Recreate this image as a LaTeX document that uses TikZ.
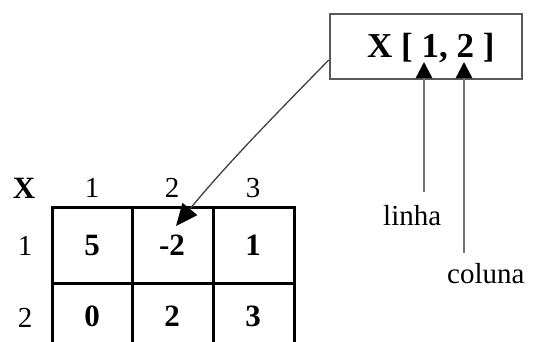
\documentclass[tikz,border=0pt]{standalone}
\usepackage{fontspec}
\setmainfont{Liberation Serif}
\usetikzlibrary{arrows.meta}
\tikzset{
  gridline/.style={line width=3pt, black},
  lbl/.style={inner sep=0pt, font=\fontsize{29}{29}\selectfont},
  val/.style={inner sep=0pt, font=\fontsize{31}{31}\selectfont\bfseries},
  callout/.style={draw=black!65, line width=2.6pt, fill=white, inner sep=0pt},
  pointer/.style={draw=black!55, line width=2.4pt,
    -{Triangle[length=16pt,width=16pt,color=black]}},
  leader/.style={draw=black!75, line width=1.3pt,
    -{Triangle[length=22pt,width=19pt,color=black]}}
}
\begin{document}
\begin{tikzpicture}[x=1pt,y=-1pt]
\useasboundingbox (0,0) rectangle (534,341);
\clip (0,0) rectangle (534,341);

% array grid (the lower border runs past the frame)
\foreach \gx in {52,132,213,294} \draw[gridline] (\gx,207) -- (\gx,350);
\foreach \gy in {207,283} \draw[gridline] (50.5,\gy) -- (295.5,\gy);

% headers
\node[val] (hx) at (24,188) {X};
\node[lbl] (c1) at (92,188) {1};
\node[lbl] (c2) at (172,188) {2};
\node[lbl] (c3) at (253,188) {3};
\node[lbl] (r1) at (25,246) {1};
\node[lbl] (r2) at (25,318) {2};

% cell values
\node[val] (a11) at (92,245) {5};
\node[val] (a12) at (172,245) {-2};
\node[val] (a13) at (253,245) {1};
\node[val] (a21) at (92,316) {0};
\node[val] (a22) at (172,316) {2};
\node[val] (a23) at (253,316) {3};

% access expression
\node[callout, minimum width=192pt, minimum height=65pt] (box) at (426,46.5) {};
\node[inner sep=0pt, anchor=base west,
      font=\fontsize{35}{35}\selectfont\bfseries] (expr) at (367,57) {X [ 1, 2 ]};

% index labels
\node[lbl, anchor=base west] (linha) at (383,225) {linha};
\node[lbl, anchor=base west] (coluna) at (447,283) {coluna};

\coordinate (lfoot) at (424,192);
\coordinate (ltip) at (424,62);
\coordinate (cfoot) at (464,253);
\coordinate (ctip) at (464,62);
\draw[pointer] (lfoot) -- (ltip);
\draw[pointer] (cfoot) -- (ctip);

% element reached by X[1,2]
\coordinate (bstart) at (box.west |- 0,60);
\coordinate (etip) at (176,226);
\draw[leader] (bstart) .. controls (285,105) and (230,160) .. (etip);
\end{tikzpicture}
\end{document}
